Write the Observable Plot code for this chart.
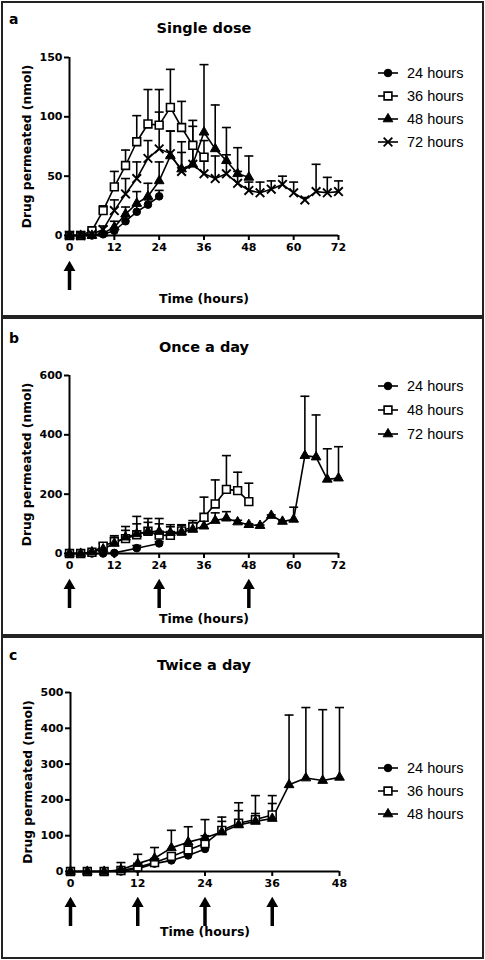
<!DOCTYPE html>
<html><head><meta charset="utf-8">
<script src="https://cdn.jsdelivr.net/npm/d3@7"></script>
<script src="https://cdn.jsdelivr.net/npm/@observablehq/plot@0.6"></script>
<style>
body{margin:0;background:#fff;}
#root{position:relative;width:485px;height:960px;overflow:hidden;background:#fff;}
.box{position:absolute;left:1px;width:483px;border:2px solid #222;box-sizing:border-box;}
.title{position:absolute;left:0;width:408px;text-align:center;font:bold 14.5px "DejaVu Sans",sans-serif;line-height:18px;color:#000;}
.letter{position:absolute;left:9px;font:bold 14px "DejaVu Sans",sans-serif;line-height:16px;color:#000;}
.plotwrap{position:absolute;left:0;}
.leg{position:absolute;left:376px;height:18px;display:flex;align-items:center;font:14.5px "Liberation Sans",Arial,sans-serif;color:#000;}
.leg svg{margin-right:7px;}
</style></head>
<body><div id="root"></div>
<script>
// ---------- Panel a: Single dose ----------
const a_t24 = [0,3,6,9,12,15,18,21,24];
const a_m24 = [0,0,0,1,4,12,20,26,33];
const a_sd24 = [0,0,0,1,2,4,5,4,5];
const a_t36 = [0,3,6,9,12,15,18,21,24,27,30,33,36];
const a_m36 = [0,0,4,21,41,59,79,94,93,108,91,76,66];
const a_sd36 = [0,0,1,4,13,13,22,29,30,32,22,16,14];
const a_t48 = [0,3,6,9,12,15,18,21,24,27,30,33,36,39,42,45,48];
const a_m48 = [0,0,0,2,7,18,27,33,46,67,56,60,87,73,63,52,49];
const a_sd48 = [0,0,0,1,5,6,10,11,16,21,23,37,57,37,28,22,18];
const a_t72 = [0,3,6,9,12,15,18,21,24,27,30,33,36,39,42,45,48,51,54,57,60,63,66,69,72];
const a_m72 = [0,0,1,5,21,35,48,65,73,69,54,60,52,48,52,44,38,36,39,43,36,30,37,36,37];
const a_sd72 = [0,0,1,3,9,13,14,15,31,19,16,18,16,19,16,10,7,9,7,7,9,2,23,13,9];
const a_labels = ["24 hours","36 hours","48 hours","72 hours"];
const a_doses = [0];
const a_xticks = [0,12,24,36,48,60,72];
const a_yticks = [0,50,100,150];

// ---------- Panel b: Once a day ----------
const b_t24 = [0,3,6,9,12,18,24];
const b_m24 = [0,0,0,0,2,18,34];
const b_sd24 = [0,0,0,0,0,9,6];
const b_t48 = [0,3,6,9,12,15,18,21,24,27,30,33,36,39,42,45,48];
const b_m48 = [0,0,4,25,40,50,63,75,62,61,76,90,122,167,216,212,175];
const b_sd48 = [0,0,2,10,20,41,62,43,56,36,21,21,68,81,114,62,62];
const b_t72 = [0,3,6,9,12,15,18,21,24,27,30,33,36,39,42,45,48,51,54,57,60,63,66,69,72];
const b_m72 = [0,0,5,15,34,55,66,74,74,70,72,81,92,111,119,106,97,94,128,108,115,330,325,250,254];
const b_sd72 = [0,0,2,5,21,23,34,31,26,20,23,19,18,26,22,6,3,2,2,2,41,200,142,103,106];
const b_labels = ["24 hours","48 hours","72 hours"];
const b_doses = [0,24,48];
const b_xticks = [0,12,24,36,48,60,72];
const b_yticks = [0,200,400,600];

// ---------- Panel c: Twice a day ----------
const c_t24 = [0,3,6,9,12,15,18,21,24];
const c_m24 = [0,0,0,0,8,22,31,45,63];
const c_sd24 = [0,0,0,0,4,6,7,7,12];
const c_t36 = [0,3,6,9,12,15,18,21,24,27,30,33,36];
const c_m36 = [0,0,0,3,12,25,42,60,78,115,135,145,158];
const c_sd36 = [0,0,0,2,6,10,8,15,22,37,57,67,54];
const c_t48 = [0,3,6,9,12,15,18,21,24,27,30,33,36,39,42,45,48];
const c_m48 = [0,0,0,5,22,37,66,82,94,110,130,140,148,242,261,254,263];
const c_sd48 = [0,0,0,20,26,30,49,43,51,30,40,22,42,195,197,198,195];
const c_labels = ["24 hours","36 hours","48 hours"];
const c_doses = [0,12,24,36];
const c_xticks = [0,12,24,36,48];
const c_yticks = [0,100,200,300,400,500];

const titles = ["Single dose","Once a day","Twice a day"];
const letters = ["a","b","c"];
const yLabel = "Drug permeated (nmol)";
const xLabel = "Time (hours)";

// ---------- helpers ----------
const capSymbol = {draw(ctx){ ctx.moveTo(-4.5,0); ctx.lineTo(4.5,0); }};
const symStyle = {
  circle:   {symbol:"circle",   r:3.8, fill:"black", stroke:"black", strokeWidth:1},
  square:   {symbol:"square",   r:4.4, fill:"white", stroke:"black", strokeWidth:1.6},
  triangle: {symbol:"triangle", r:3.6, fill:"black", stroke:"black", strokeWidth:1},
  times:    {symbol:"times",    r:4.0, fill:"none",  stroke:"black", strokeWidth:1.9}
};
const symOrder = ["circle","square","triangle","times"];
function rowsOf(t, m, sd){ return t.map((x,i)=>({t:x, m:m[i], hi:m[i]+sd[i], sd:sd[i]})); }

const FONT = '"DejaVu Sans", sans-serif';

function makePanel(cfg){
  const frameH = cfg.height - cfg.mt - cfg.mb;
  const marks = [];
  cfg.series.forEach(s => {
    marks.push(Plot.ruleX(s.rows.filter(d=>d.sd>0), {x:"t", y1:"m", y2:"hi", stroke:"black", strokeWidth:1.6}));
    marks.push(Plot.dot(s.rows.filter(d=>d.sd>0), {x:"t", y:"hi", symbol:capSymbol, r:4, fill:"none", stroke:"black", strokeWidth:1.6}));
  });
  cfg.series.forEach(s => marks.push(Plot.line(s.rows, {x:"t", y:"m", stroke:"black", strokeWidth:1.6})));
  cfg.series.forEach(s => marks.push(Plot.dot(s.rows, {x:"t", y:"m", ...symStyle[s.symbol]})));
  marks.push(Plot.ruleX([0], {stroke:"black", strokeWidth:2}));
  marks.push(Plot.ruleY([0], {stroke:"black", strokeWidth:2}));
  marks.push(Plot.axisX({ticks:cfg.xticks, tickSize:5, tickPadding:3, fontSize:11, fontWeight:"bold", strokeWidth:2, label:null}));
  marks.push(Plot.axisY({ticks:cfg.yticks, tickSize:5, tickPadding:2, fontSize:11, fontWeight:"bold", strokeWidth:2, label:null}));
  // dosing arrows
  marks.push(Plot.ruleX(cfg.doses, {x:d=>d, insetTop:frameH+34, insetBottom:-55, stroke:"black", strokeWidth:3.5}));
  marks.push(Plot.dot(cfg.doses, {x:d=>d, frameAnchor:"bottom", dy:32, symbol:"triangle", r:4.4, fill:"black"}));
  // axis labels
  marks.push(Plot.text([xLabel], {text:d=>d, frameAnchor:"bottom", dy:cfg.xlabDy, fontSize:12.5, fontWeight:"bold", fill:"black"}));
  marks.push(Plot.text([yLabel], {text:d=>d, frameAnchor:"left", textAnchor:"middle", rotate:-90, dx:-42, fontSize:12.3, fontWeight:"bold", fill:"black"}));
  return Plot.plot({
    width: 350, height: cfg.height,
    marginLeft: cfg.ml, marginRight: 350 - cfg.ml - 269, marginTop: cfg.mt, marginBottom: cfg.mb,
    x: {domain: [0, cfg.xticks[cfg.xticks.length-1]]},
    y: {domain: [0, cfg.yticks[cfg.yticks.length-1]]},
    style: {fontFamily: FONT, color:"black", background:"transparent", overflow:"visible"},
    marks
  });
}

const panels = [
  {top:1, boxH:316, titleY:28, letterY:19, legendY:[73,96,119,142], labels:a_labels,
   height:310, ml:69, mt:56, mb:76, xlabDy:67, xticks:a_xticks, yticks:a_yticks, doses:a_doses,
   series:[rowsOf(a_t24,a_m24,a_sd24), rowsOf(a_t36,a_m36,a_sd36), rowsOf(a_t48,a_m48,a_sd48), rowsOf(a_t72,a_m72,a_sd72)]},
  {top:317, boxH:319, titleY:347, letterY:338, legendY:[386,410,434], labels:b_labels,
   height:315, ml:69, mt:58, mb:79, xlabDy:69, xticks:b_xticks, yticks:b_yticks, doses:b_doses,
   series:[rowsOf(b_t24,b_m24,b_sd24), rowsOf(b_t48,b_m48,b_sd48), rowsOf(b_t72,b_m72,b_sd72)]},
  {top:636, boxH:323, titleY:665, letterY:655, legendY:[768,791,814], labels:c_labels,
   height:320, ml:70, mt:56, mb:85, xlabDy:64, xticks:c_xticks, yticks:c_yticks, doses:c_doses,
   series:[rowsOf(c_t24,c_m24,c_sd24), rowsOf(c_t36,c_m36,c_sd36), rowsOf(c_t48,c_m48,c_sd48)]}
];

const root = document.getElementById("root");
function legendIcon(sym){
  const ns = "http://www.w3.org/2000/svg";
  const svg = document.createElementNS(ns, "svg");
  svg.setAttribute("width", 24); svg.setAttribute("height", 18);
  const line = document.createElementNS(ns, "line");
  line.setAttribute("x1", 2); line.setAttribute("x2", 22); line.setAttribute("y1", 9); line.setAttribute("y2", 9);
  line.setAttribute("stroke", "black"); line.setAttribute("stroke-width", 1.6);
  svg.appendChild(line);
  const st = symStyle[sym];
  const types = {circle:d3.symbolCircle, square:d3.symbolSquare, triangle:d3.symbolTriangle, times:d3.symbolTimes};
  const p = document.createElementNS(ns, "path");
  p.setAttribute("d", d3.symbol(types[sym], st.r*st.r*Math.PI)());
  p.setAttribute("transform", "translate(12,9)");
  p.setAttribute("fill", st.fill); p.setAttribute("stroke", st.stroke); p.setAttribute("stroke-width", st.strokeWidth);
  svg.appendChild(p);
  return svg;
}

panels.forEach((P, i) => {
  const box = document.createElement("div");
  box.className = "box"; box.style.top = P.top + "px"; box.style.height = P.boxH + "px";
  root.appendChild(box);
  const series = P.series.map((rows, k) => ({rows, symbol: symOrder[k]}));
  const chart = makePanel({...P, series});
  const wrap = document.createElement("div");
  wrap.className = "plotwrap"; wrap.style.top = P.top + "px";
  wrap.appendChild(chart);
  root.appendChild(wrap);
  const t = document.createElement("div");
  t.className = "title"; t.style.top = (P.titleY - 9) + "px"; t.textContent = titles[i];
  root.appendChild(t);
  const l = document.createElement("div");
  l.className = "letter"; l.style.top = (P.letterY - 8) + "px"; l.textContent = letters[i];
  root.appendChild(l);
  P.labels.forEach((lab, k) => {
    const row = document.createElement("div");
    row.className = "leg"; row.style.top = (P.legendY[k] - 9) + "px";
    row.appendChild(legendIcon(symOrder[k]));
    const sp = document.createElement("span"); sp.textContent = lab;
    row.appendChild(sp);
    root.appendChild(row);
  });
});
</script>
</body></html>
